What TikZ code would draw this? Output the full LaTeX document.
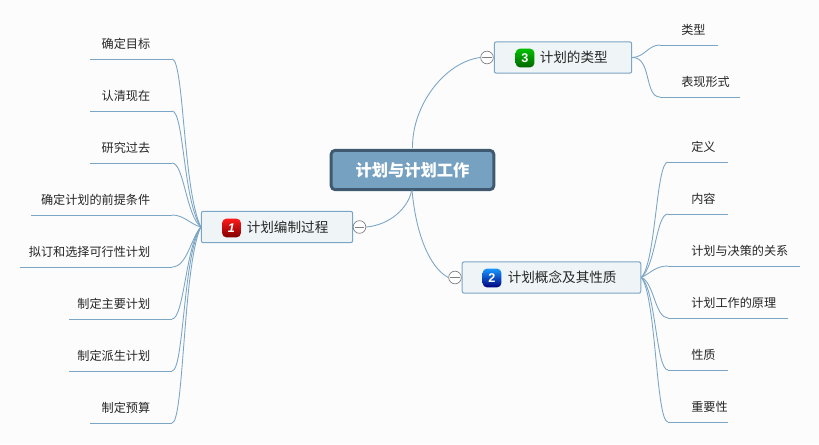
\documentclass[tikz,border=0pt]{standalone}
\usepackage{fontspec}
\setmainfont{Liberation Sans}
\newfontfamily\cjk{Noto Sans CJK SC}
\definecolor{bgc}{HTML}{FCFCFC}
\definecolor{linec}{HTML}{7BA5C4}
\definecolor{rootfill}{HTML}{76A1C0}
\definecolor{rootdraw}{HTML}{3F5A70}
\definecolor{branchfill}{HTML}{EFF4F7}
\definecolor{txt}{HTML}{262626}
\tikzset{
  x=0.75pt,y=-0.75pt,
  rootnode/.style={draw=rootdraw,line width=2.2pt,fill=rootfill,rounded corners=3pt,minimum width=122pt,minimum height=29.5pt,inner sep=0pt,text=white,font=\cjk\fontsize{12.2}{14}\selectfont\bfseries},
  branchnode/.style={draw=linec,line width=0.75pt,fill=branchfill,rounded corners=1.5pt,minimum height=23.5pt,inner sep=0pt},
  branchtext/.style={inner sep=0pt,text=txt,font=\cjk\fontsize{10.2}{12}\selectfont},
  leaftext/.style={inner sep=0pt,text=txt,font=\cjk\fontsize{9.1}{11}\selectfont},
  conn/.style={draw=linec,line width=0.65pt},
  collapse/.style={circle,draw=black!50,fill=white,line width=0.5pt,minimum size=9.5pt,inner sep=0pt},
  badge/.style={rounded corners=3.5pt,minimum size=14.2pt,inner sep=0pt,text=white,font=\fontsize{9.5}{10}\selectfont\bfseries},
}
\begin{document}
\begin{tikzpicture}
\useasboundingbox (0,0) rectangle (819,444);
\fill[bgc] (0,0) rectangle (819,444);

\node[rootnode] (root) at (412.5,170) {计划与计划工作};
\node[branchnode,minimum width=113.5pt] (b1) at (277,227) {};
\node[branchnode,minimum width=134pt] (b2) at (551.5,277.5) {};
\node[branchnode,minimum width=103pt] (b3) at (563,57.5) {};
\node[collapse] (c1) at (359.5,227) {};
\node[collapse] (c2) at (455,277.5) {};
\node[collapse] (c3) at (487,57.5) {};
\foreach \c in {c1,c2,c3} \draw[black!50,line width=0.5pt] ([xshift=-3.4pt]\c.center) -- ([xshift=3.4pt]\c.center);

\draw[conn] (root.south) ++(-1,0) .. controls (408,208) and (390,225) .. (c1.east);
\draw[conn] (412,190) .. controls (416,235) and (430,268) .. (c2.west);
\draw[conn] (root.north) ++(0,-1) .. controls (412,105) and (445,62) .. (c3.west);

\node[badge,top color=red!90!white,middle color=red!90!black,bottom color=red!50!black] (n1) at (231.5,228) {\itshape 1};
\node[branchtext,anchor=west] (t1) at (246.5,227) {计划编制过程};
\node[badge,top color=blue!45!cyan!90!white,middle color=blue!60!cyan,bottom color=blue!50!black] (n2) at (492,278) {2};
\node[branchtext,anchor=west] (t2) at (507.5,277) {计划概念及其性质};
\node[badge,top color=green!75!black,middle color=green!65!black,bottom color=green!40!black] (n3) at (525,58) {3};
\node[branchtext,anchor=west] (t3) at (539.5,57) {计划的类型};

\foreach \nm/\lab/\y/\xs in {l1/确定目标/59/90, l2/认清现在/111/90, l3/研究过去/163/90, l4/确定计划的前提条件/215/31, l5/拟订和选择可行性计划/267/20, l6/制定主要计划/319/69, l7/制定派生计划/371/69, l8/制定预算/423/90}{
  \node[leaftext,anchor=base east] (\nm) at (150.5,\y-11) {\lab};
  \coordinate (\nm s) at (\xs,\y);
  \coordinate (\nm e) at (172,\y);
  \draw[conn] (\nm s) -- (\nm e);
}
\draw[conn] (l1e) .. controls (184,59) and (183,190) .. (b1.west);
\draw[conn] (l2e) .. controls (184,111) and (183,200) .. (b1.west);
\draw[conn] (l3e) .. controls (184,163) and (186,215) .. (b1.west);
\draw[conn] (l4e) .. controls (184,215) and (190,224) .. (b1.west);
\draw[conn] (l5e) .. controls (187,267) and (191,238) .. (b1.west);
\draw[conn] (l6e) .. controls (184,319) and (186,245) .. (b1.west);
\draw[conn] (l7e) .. controls (184,371) and (183,255) .. (b1.west);
\draw[conn] (l8e) .. controls (184,423) and (183,265) .. (b1.west);

\foreach \nm/\lab/\y/\xe/\xt in {r1/定义/162/728/691, r2/内容/214/728/691, r3/计划与决策的关系/266/800/691, r4/计划工作的原理/318/788/691, r5/性质/370/728/691, r6/重要性/422/728/691}{
  \node[leaftext,anchor=base west] (\nm) at (\xt,\y-11) {\lab};
  \coordinate (\nm s) at (668,\y);
  \coordinate (\nm e) at (\xe,\y);
  \draw[conn] (\nm s) -- (\nm e);
}
\draw[conn] (b2.east) .. controls (656,262) and (656,162) .. (r1s);
\draw[conn] (b2.east) .. controls (656,265) and (656,214) .. (r2s);
\draw[conn] (b2.east) .. controls (652,272) and (656,266) .. (r3s);
\draw[conn] (b2.east) .. controls (654,282) and (655,318) .. (r4s);
\draw[conn] (b2.east) .. controls (656,290) and (656,370) .. (r5s);
\draw[conn] (b2.east) .. controls (656,295) and (656,422) .. (r6s);

\foreach \nm/\lab/\y/\xe/\xt in {s1/类型/45/718/681, s2/表现形式/97/740/681}{
  \node[leaftext,anchor=base west] (\nm) at (\xt,\y-11) {\lab};
  \coordinate (\nm s) at (660,\y);
  \coordinate (\nm e) at (\xe,\y);
  \draw[conn] (\nm s) -- (\nm e);
}
\draw[conn] (b3.east) .. controls (645,57) and (648,45) .. (s1s);
\draw[conn] (b3.east) .. controls (652,57) and (644,97) .. (s2s);
\end{tikzpicture}
\end{document}
